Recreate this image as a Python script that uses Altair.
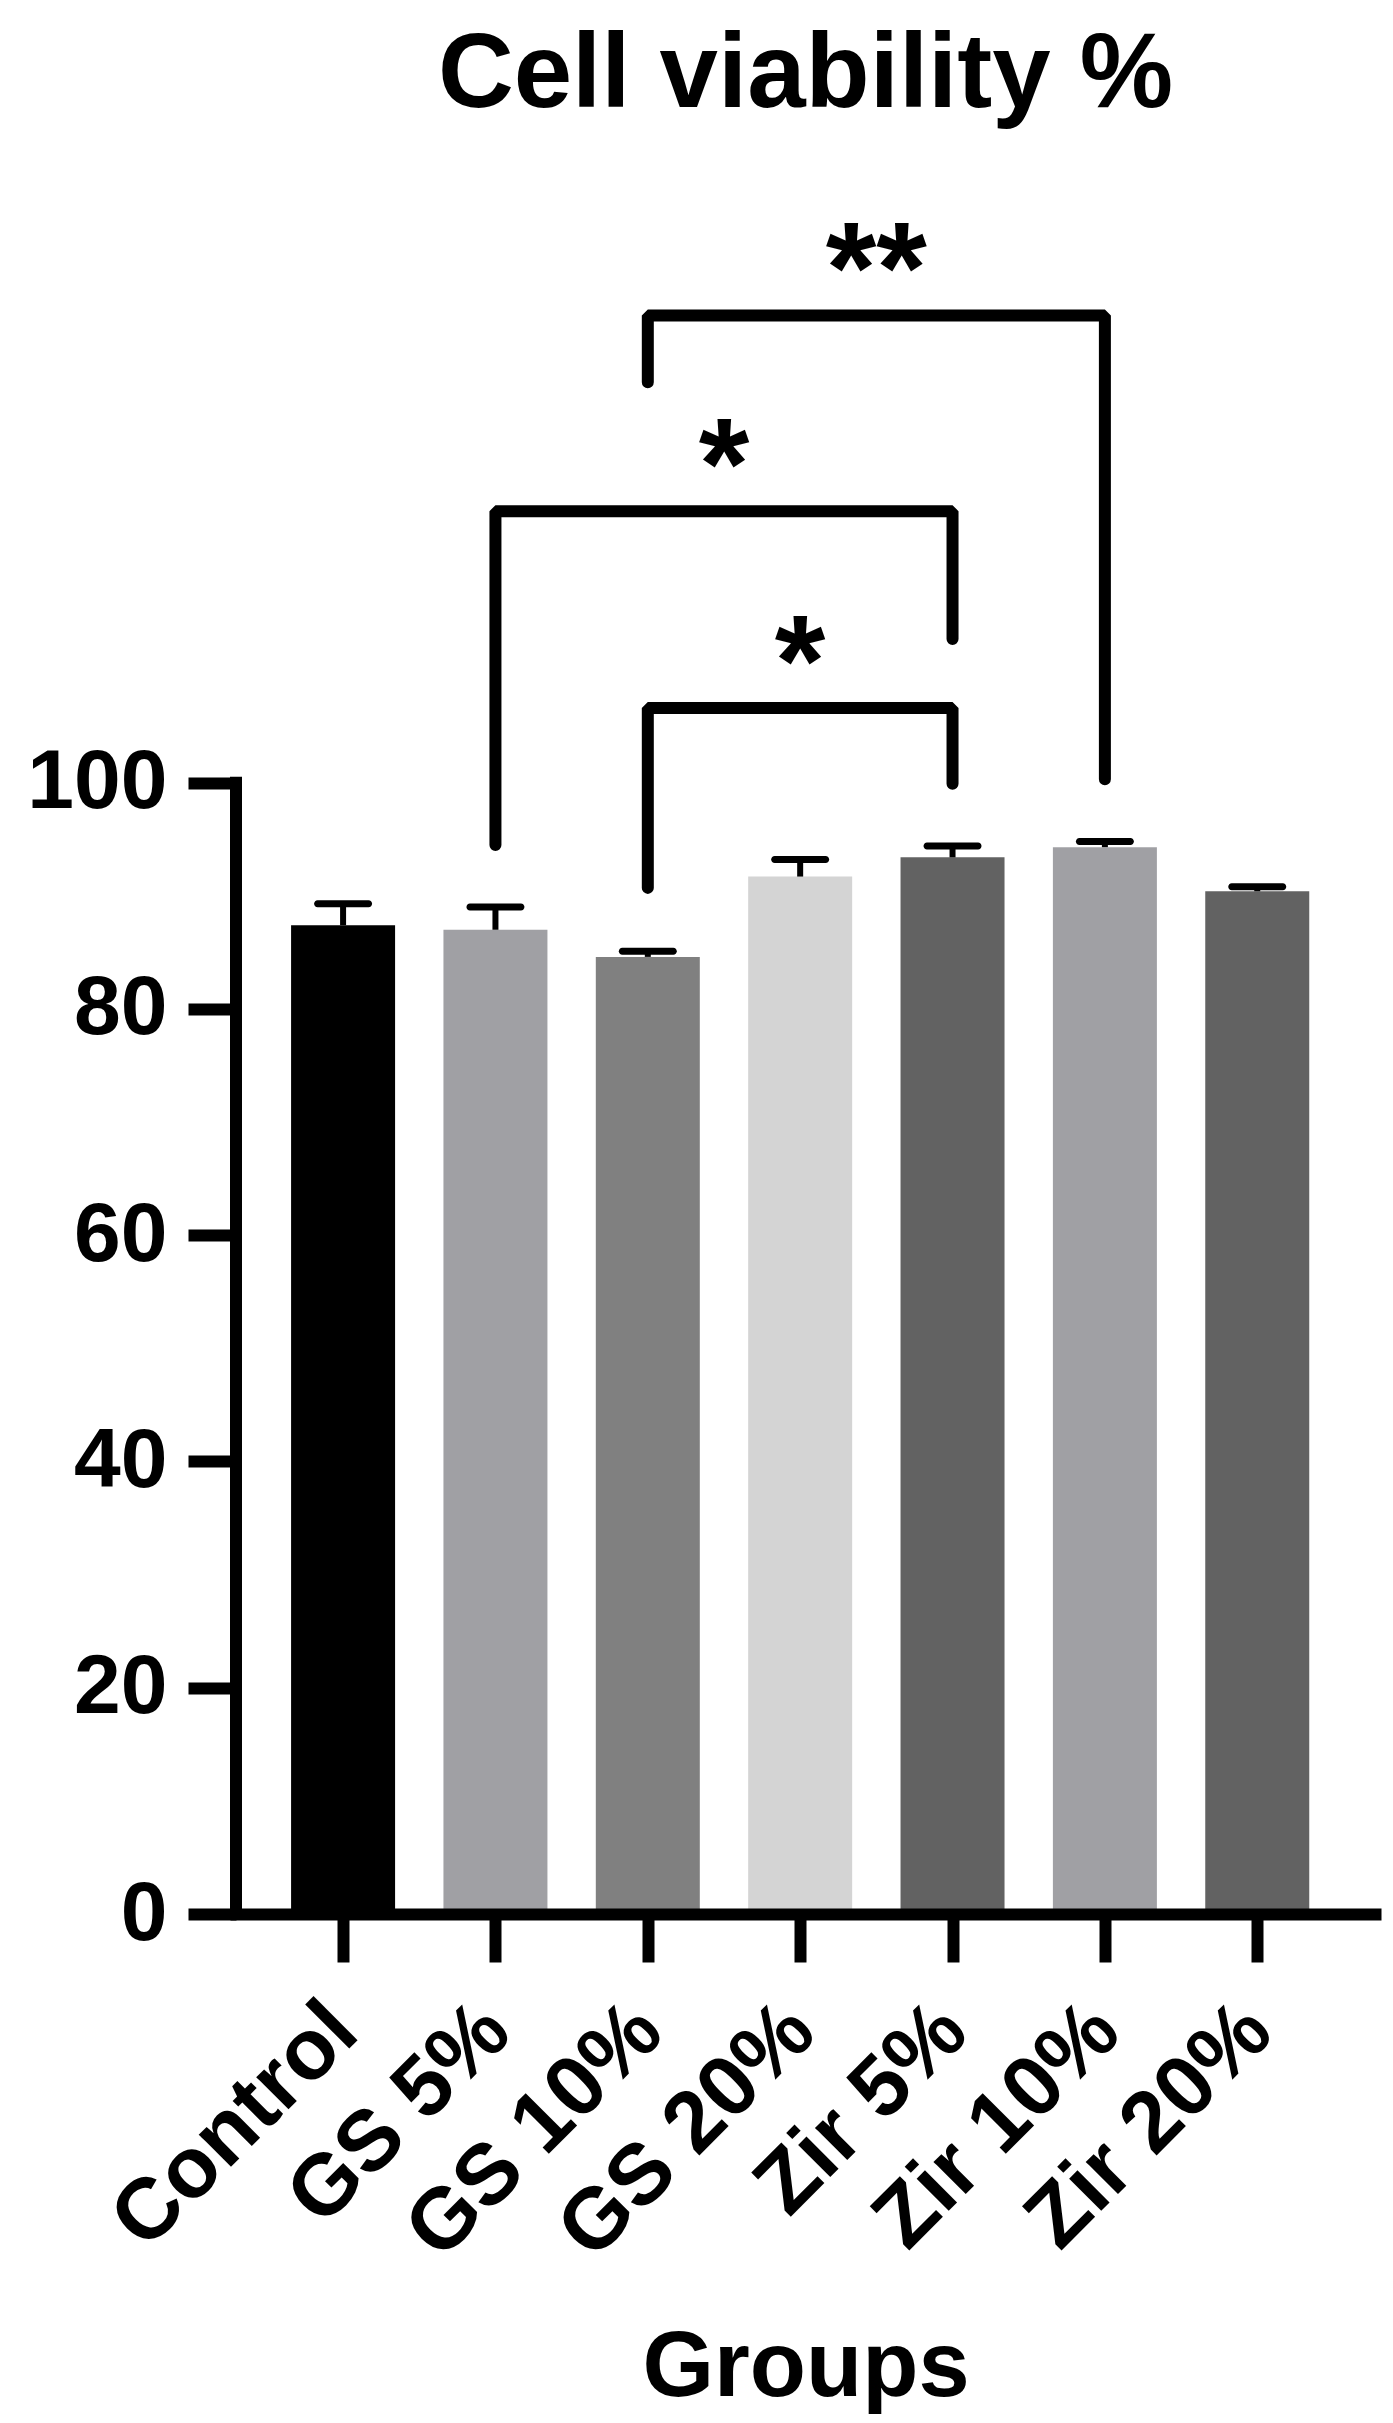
import json
import altair as alt
import pandas as pd

# ---- data ----
categories = ["Control", "GS 5%", "GS 10%", "GS 20%", "Zir 5%", "Zir 10%", "Zir 20%"]
means = [87.4, 87.0, 84.6, 91.7, 93.4, 94.3, 90.4]
upper = [89.3, 89.0, 85.1, 93.2, 94.4, 94.8, 90.8]
bar_colors = ["#000000", "#A0A0A4", "#808080", "#D4D4D4", "#626262", "#A0A0A4", "#626262"]

bracket_left = ["GS 10%", "GS 5%", "GS 10%"]
bracket_right = ["Zir 10%", "Zir 5%", "Zir 5%"]
bracket_top = [141.3, 124.0, 106.6]
bracket_left_end = [135.4, 94.5, 90.7]
bracket_right_end = [100.3, 112.7, 99.9]
bracket_text = ["**", "*", "*"]
star_y = [141.5, 124.2, 106.8]

y_ticks = [0, 20, 40, 60, 80, 100]
axis_line = [0, 100]

# ---- tables ----
idx = {c: i for i, c in enumerate(categories)}
bars = pd.DataFrame({"group": categories, "pos": list(range(len(categories))),
                     "mean": means, "upper": upper})

rows = []
for b, (l, r, t, le, re) in enumerate(zip(bracket_left, bracket_right, bracket_top,
                                          bracket_left_end, bracket_right_end)):
    rows += [
        {"b": b, "o": 0, "pos": idx[l], "y": le},
        {"b": b, "o": 1, "pos": idx[l], "y": t},
        {"b": b, "o": 2, "pos": idx[r], "y": t},
        {"b": b, "o": 3, "pos": idx[r], "y": re},
    ]
brackets = pd.DataFrame(rows)
stars = pd.DataFrame({
    "pos": [(idx[l] + idx[r]) / 2 for l, r in zip(bracket_left, bracket_right)],
    "y": star_y,
    "text": bracket_text,
})
yline = pd.DataFrame({"y0": [axis_line[0]], "y1": [axis_line[1]]})

FONT = "Liberation Sans"
x_scale = alt.Scale(domain=[-0.67, 6.74], nice=False, zero=False)
y_scale = alt.Scale(domain=[0, 150], nice=False, zero=False)

x_axis = alt.Axis(
    values=list(range(len(categories))),
    labelExpr=json.dumps(categories) + "[datum.value]",
    labelAngle=-45, labelAlign="right", labelBaseline="middle",
    labelFont=FONT, labelFontSize=86, labelFontWeight="bold", labelColor="black",
    labelPadding=55, labelOverlap=False, labelFlush=False, labelLimit=0,
    tickSize=48, tickWidth=12, tickColor="black",
    domainColor="black", domainWidth=12, domainCap="square",
    grid=False, zindex=1,
    title="Groups", titleFont=FONT, titleFontSize=92, titleFontWeight="bold",
    titleColor="black", titleBaseline="alphabetic", titleY=481,
)
y_axis = alt.Axis(
    values=y_ticks, domain=False, grid=False,
    tickSize=48, tickWidth=12, tickColor="black",
    labelFont=FONT, labelFontSize=84, labelFontWeight="bold", labelColor="black",
    labelPadding=21, labelFlush=False, labelOverlap=False, title=None,
)

base = alt.Chart(bars)

bar_layer = base.mark_bar(size=104).encode(
    x=alt.X("pos:Q", scale=x_scale, axis=x_axis),
    y=alt.Y("mean:Q", scale=y_scale, axis=y_axis),
    color=alt.Color("group:N", scale=alt.Scale(domain=categories, range=bar_colors), legend=None),
)

stem = base.mark_rule(strokeWidth=6, color="black").encode(
    x=alt.X("pos:Q", scale=x_scale), y=alt.Y("mean:Q", scale=y_scale), y2="upper:Q"
)
cap = base.mark_tick(thickness=7, size=58, orient="horizontal", color="black",
                     cornerRadius=3.5, opacity=1).encode(
    x=alt.X("pos:Q", scale=x_scale), y=alt.Y("upper:Q", scale=y_scale)
)

y_rule = alt.Chart(yline).mark_rule(strokeWidth=12, strokeCap="square", color="black").encode(
    x=alt.value(0), y=alt.Y("y0:Q", scale=y_scale), y2="y1:Q"
)

bracket_layer = alt.Chart(brackets).mark_line(
    strokeWidth=12, strokeCap="round", strokeJoin="bevel", color="black"
).encode(
    x=alt.X("pos:Q", scale=x_scale), y=alt.Y("y:Q", scale=y_scale),
    detail="b:N", order="o:Q",
)

star_layer = alt.Chart(stars).mark_text(
    font=FONT, fontSize=130, fontWeight="bold", baseline="alphabetic", align="center",
    color="black",
).encode(
    x=alt.X("pos:Q", scale=x_scale), y=alt.Y("y:Q", scale=y_scale), text="text:N"
)

chart = alt.layer(bar_layer, y_rule, stem, cap, bracket_layer, star_layer).properties(
    width=1139, height=1697,
    autosize=alt.AutoSizeParams(type="none"),
    padding={"left": 228, "top": 209, "right": 10, "bottom": 500},
    title=alt.TitleParams("Cell viability %", font=FONT, fontSize=105, fontWeight="bold",
                          color="black", anchor="middle", frame="group", offset=80),
    background="white",
).configure_view(strokeWidth=0)

chart.save("out.html", embed_options={"renderer": "svg", "actions": False})
